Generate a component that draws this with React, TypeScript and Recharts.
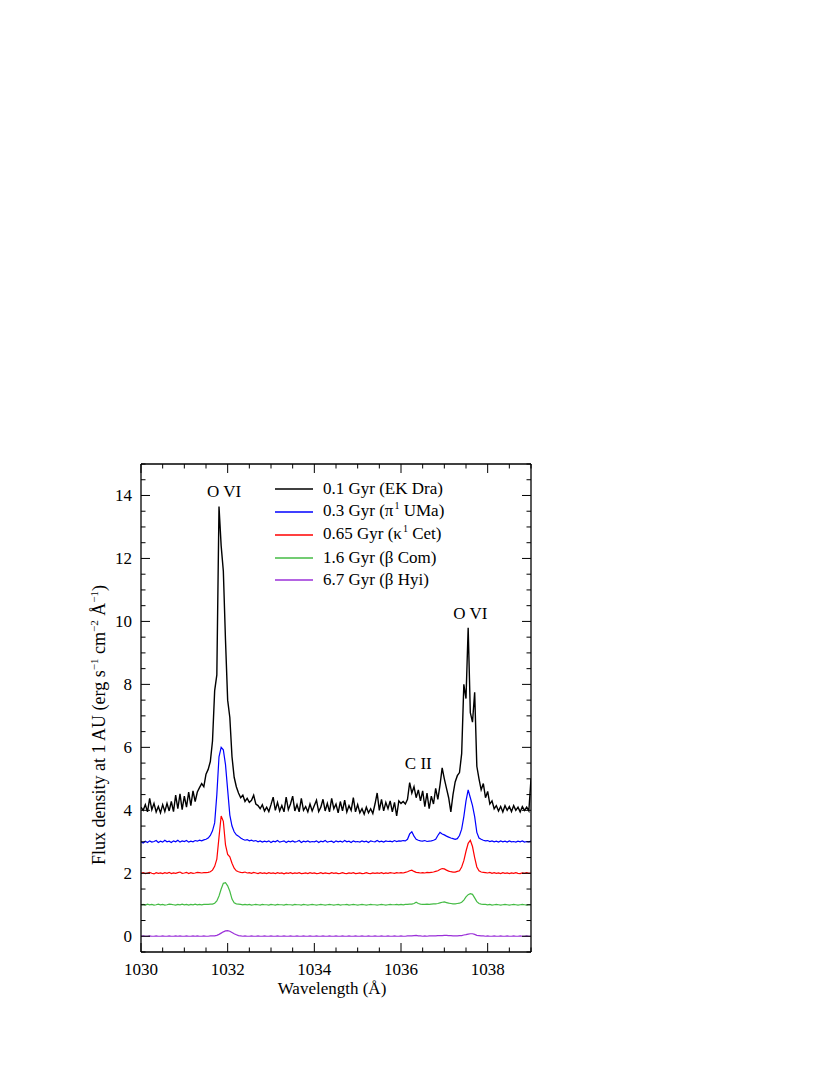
import React from 'react';
import { LineChart, Line, XAxis, YAxis, ReferenceDot, Legend } from 'recharts';

const FONT = '"Liberation Serif", "Times New Roman", Times, serif';

const wavelengths = [
  1030.00, 1030.05, 1030.10, 1030.15, 1030.20, 1030.25, 1030.30, 1030.35, 1030.40, 1030.45,
  1030.50, 1030.55, 1030.60, 1030.65, 1030.70, 1030.75, 1030.80, 1030.85, 1030.90, 1030.95,
  1031.00, 1031.05, 1031.10, 1031.15, 1031.20, 1031.25, 1031.30, 1031.35, 1031.40, 1031.45,
  1031.50, 1031.55, 1031.60, 1031.65, 1031.70, 1031.75, 1031.80, 1031.85, 1031.90, 1031.95,
  1032.00, 1032.05, 1032.10, 1032.15, 1032.20, 1032.25, 1032.30, 1032.35, 1032.40, 1032.45,
  1032.50, 1032.55, 1032.60, 1032.65, 1032.70, 1032.75, 1032.80, 1032.85, 1032.90, 1032.95,
  1033.00, 1033.05, 1033.10, 1033.15, 1033.20, 1033.25, 1033.30, 1033.35, 1033.40, 1033.45,
  1033.50, 1033.55, 1033.60, 1033.65, 1033.70, 1033.75, 1033.80, 1033.85, 1033.90, 1033.95,
  1034.00, 1034.05, 1034.10, 1034.15, 1034.20, 1034.25, 1034.30, 1034.35, 1034.40, 1034.45,
  1034.50, 1034.55, 1034.60, 1034.65, 1034.70, 1034.75, 1034.80, 1034.85, 1034.90, 1034.95,
  1035.00, 1035.05, 1035.10, 1035.15, 1035.20, 1035.25, 1035.30, 1035.35, 1035.40, 1035.45,
  1035.50, 1035.55, 1035.60, 1035.65, 1035.70, 1035.75, 1035.80, 1035.85, 1035.90, 1035.95,
  1036.00, 1036.05, 1036.10, 1036.15, 1036.20, 1036.25, 1036.30, 1036.35, 1036.40, 1036.45,
  1036.50, 1036.55, 1036.60, 1036.65, 1036.70, 1036.75, 1036.80, 1036.85, 1036.90, 1036.95,
  1037.00, 1037.05, 1037.10, 1037.15, 1037.20, 1037.25, 1037.30, 1037.35, 1037.40, 1037.45,
  1037.50, 1037.55, 1037.60, 1037.65, 1037.70, 1037.75, 1037.80, 1037.85, 1037.90, 1037.95,
  1038.00, 1038.05, 1038.10, 1038.15, 1038.20, 1038.25, 1038.30, 1038.35, 1038.40, 1038.45,
  1038.50, 1038.55, 1038.60, 1038.65, 1038.70, 1038.75, 1038.80, 1038.85, 1038.90, 1038.95,
  1039.00,
];

// 0.1 Gyr (EK Dra)
const ekDra = [
  4.10, 4.00, 4.18, 3.95, 4.38, 4.02, 4.22, 3.95, 4.12, 3.92,
  4.18, 3.96, 4.22, 3.98, 4.28, 3.96, 4.48, 4.05, 4.52, 4.02,
  4.45, 4.10, 4.58, 4.15, 4.62, 4.28, 4.58, 4.72, 4.85, 4.75,
  5.15, 5.30, 5.55, 6.20, 7.80, 8.30, 13.65, 12.40, 11.60, 9.40,
  7.50, 6.95, 5.70, 5.05, 4.75, 4.55, 4.40, 4.48, 4.28, 4.38,
  4.25, 4.32, 4.48, 4.20, 4.15, 4.05, 4.18, 3.98, 4.10, 3.96,
  4.18, 4.42, 4.00, 4.25, 3.98, 4.15, 3.95, 4.42, 4.02, 4.20,
  4.45, 3.98, 4.18, 3.95, 4.38, 4.00, 4.12, 3.95, 4.20, 3.98,
  4.15, 4.32, 3.96, 4.10, 4.35, 3.98, 4.22, 3.95, 4.38, 4.05,
  4.20, 3.92, 4.28, 3.98, 4.32, 3.95, 4.15, 4.00, 4.40, 3.95,
  4.18, 3.92, 4.05, 3.88, 4.10, 3.92, 4.05, 3.90, 4.20, 4.55,
  4.00, 4.35, 3.98, 4.25, 4.05, 4.30, 3.95, 4.25, 3.82, 4.30,
  4.22, 4.28, 4.20, 4.35, 4.88, 4.55, 4.75, 4.40, 4.65, 4.30,
  4.62, 4.12, 4.55, 4.05, 4.45, 4.20, 4.70, 4.35, 4.80, 5.35,
  5.00, 4.70, 4.40, 3.95, 4.50, 4.90, 5.10, 5.20, 5.80, 8.00,
  7.55, 9.80, 7.10, 6.80, 7.75, 5.40, 5.00, 4.65, 4.85, 4.40,
  4.60, 4.20, 4.30, 4.05, 4.15, 3.98, 4.12, 3.95, 4.15, 4.00,
  4.12, 3.96, 4.15, 4.00, 4.10, 3.95, 4.12, 4.00, 4.10, 3.98,
  5.00,
];

// 0.3 Gyr (pi1 UMa)
const piUMa = [
  3.00, 2.96, 3.02, 2.98, 3.03, 2.99, 3.01, 3.04, 2.98, 3.02,
  2.99, 3.05, 3.00, 3.02, 2.98, 3.03, 3.00, 3.05, 2.99, 3.03,
  3.01, 3.04, 2.99, 3.02, 3.00, 3.04, 3.02, 3.05, 3.03, 3.06,
  3.08, 3.12, 3.20, 3.35, 3.60, 4.50, 5.70, 6.00, 5.92, 5.45,
  4.65, 3.85, 3.50, 3.32, 3.22, 3.18, 3.12, 3.08, 3.05, 3.07,
  3.03, 3.05, 3.02, 3.04, 3.00, 3.03, 2.99, 3.02, 3.00, 3.03,
  2.98, 3.02, 3.00, 3.04, 2.99, 3.01, 3.03, 2.98, 3.02, 3.00,
  3.03, 2.99, 3.01, 3.04, 2.98, 3.02, 3.00, 3.03, 2.99, 3.01,
  3.00, 3.03, 2.98, 3.02, 3.00, 3.04, 2.99, 3.01, 3.02, 2.98,
  3.03, 3.00, 3.02, 2.99, 3.04, 3.00, 3.02, 2.98, 3.03, 3.00,
  3.01, 2.99, 3.03, 3.00, 3.02, 2.98, 3.03, 3.01, 3.00, 3.04,
  3.00, 3.02, 2.99, 3.03, 3.01, 3.02, 3.00, 3.04, 3.01, 3.03,
  3.02, 3.04, 3.03, 3.08, 3.25, 3.32, 3.18, 3.08, 3.05, 3.03,
  3.02, 3.04, 3.01, 3.02, 3.03, 3.05, 3.08, 3.20, 3.30, 3.25,
  3.22, 3.18, 3.15, 3.12, 3.10, 3.08, 3.10, 3.20, 3.40, 3.80,
  4.30, 4.65, 4.40, 4.15, 3.80, 3.30, 3.12, 3.08, 3.05, 3.03,
  3.04, 3.01, 3.03, 3.00, 3.02, 2.99, 3.03, 3.00, 3.02, 2.99,
  3.03, 3.00, 3.01, 2.99, 3.02, 3.00, 3.03, 2.99, 3.01, 3.00,
  3.02,
];

// 0.65 Gyr (kappa1 Cet)
const kapCet = [
  2.00, 2.02, 1.99, 2.01, 2.03, 2.00, 1.98, 2.02, 2.00, 2.01,
  1.99, 2.02, 2.00, 2.03, 1.99, 2.01, 2.00, 2.02, 2.04, 2.00,
  2.01, 2.03, 1.99, 2.02, 2.00, 2.01, 2.03, 2.02, 2.01, 2.02,
  2.02, 2.03, 2.05, 2.10, 2.22, 2.45, 3.15, 3.82, 3.65, 2.90,
  2.60, 2.52, 2.32, 2.16, 2.08, 2.05, 2.03, 2.02, 2.04, 2.01,
  2.02, 2.00, 2.03, 2.01, 1.99, 2.02, 2.00, 2.01, 1.99, 2.02,
  2.00, 2.01, 1.99, 2.02, 2.00, 2.01, 1.98, 2.01, 2.00, 2.02,
  1.99, 2.01, 2.00, 2.02, 1.99, 2.00, 2.01, 1.99, 2.02, 2.00,
  2.01, 1.99, 2.00, 2.02, 1.99, 2.01, 2.00, 1.99, 2.02, 2.00,
  2.01, 1.99, 2.00, 2.02, 2.00, 1.99, 2.01, 2.00, 2.02, 1.99,
  2.00, 2.01, 1.99, 2.00, 2.02, 2.00, 1.99, 2.01, 2.00, 2.01,
  2.00, 2.02, 1.99, 2.01, 2.00, 2.02, 2.01, 2.00, 2.02, 2.01,
  2.02, 2.01, 2.03, 2.05, 2.08, 2.10, 2.06, 2.03, 2.02, 2.01,
  2.02, 2.01, 2.03, 2.02, 2.03, 2.04, 2.06, 2.08, 2.12, 2.15,
  2.14, 2.10, 2.07, 2.05, 2.04, 2.04, 2.06, 2.08, 2.20, 2.40,
  2.70, 2.95, 3.05, 2.85, 2.50, 2.20, 2.08, 2.04, 2.03, 2.02,
  2.01, 2.03, 2.00, 2.02, 2.00, 2.01, 1.99, 2.02, 2.00, 2.01,
  1.99, 2.01, 2.00, 2.02, 2.00, 1.99, 2.01, 2.00, 2.02, 2.00,
  2.01,
];

// 1.6 Gyr (beta Com)
const betaCom = [
  1.00, 1.01, 0.99, 1.02, 1.00, 1.01, 0.99, 1.00, 1.02, 1.00,
  1.01, 0.99, 1.00, 1.02, 1.01, 1.00, 0.99, 1.01, 1.00, 1.02,
  1.00, 1.01, 0.99, 1.01, 1.00, 1.02, 1.00, 1.01, 1.00, 1.01,
  1.01, 1.01, 1.02, 1.02, 1.05, 1.12, 1.28, 1.50, 1.68, 1.70,
  1.60, 1.43, 1.18, 1.06, 1.03, 1.02, 1.01, 1.00, 1.01, 1.00,
  1.01, 0.99, 1.00, 1.01, 1.00, 0.99, 1.01, 1.00, 1.00, 0.99,
  1.01, 1.00, 0.99, 1.01, 1.00, 1.00, 0.99, 1.01, 1.00, 1.00,
  0.99, 1.01, 1.00, 1.00, 0.99, 1.01, 1.00, 0.99, 1.00, 1.01,
  1.00, 0.99, 1.00, 1.01, 1.00, 0.99, 1.00, 1.01, 1.00, 0.99,
  1.00, 1.01, 0.99, 1.00, 1.00, 1.01, 0.99, 1.00, 1.01, 1.00,
  0.99, 1.00, 1.01, 1.00, 0.99, 1.00, 1.01, 1.00, 1.00, 0.99,
  1.00, 1.01, 1.00, 0.99, 1.00, 1.01, 1.00, 1.00, 1.01, 1.00,
  1.01, 1.00, 1.01, 1.01, 1.02, 1.02, 1.04, 1.08, 1.04, 1.02,
  1.01, 1.01, 1.02, 1.01, 1.02, 1.03, 1.03, 1.04, 1.06, 1.08,
  1.09, 1.07, 1.05, 1.04, 1.03, 1.03, 1.04, 1.05, 1.08, 1.15,
  1.25, 1.32, 1.35, 1.33, 1.22, 1.10, 1.04, 1.02, 1.01, 1.01,
  1.00, 1.01, 0.99, 1.00, 1.01, 1.00, 0.99, 1.00, 1.01, 1.00,
  0.99, 1.00, 1.01, 1.00, 0.99, 1.00, 1.01, 1.00, 0.99, 1.00,
  1.00,
];

// 6.7 Gyr (beta Hyi)
const betaHyi = [
  0.00, 0.01, 0.00, 0.00, 0.01, 0.00, 0.00, 0.01, 0.00, 0.00,
  0.01, 0.00, 0.00, 0.01, 0.00, 0.00, 0.01, 0.00, 0.01, 0.00,
  0.00, 0.01, 0.00, 0.00, 0.01, 0.00, 0.01, 0.00, 0.00, 0.01,
  0.00, 0.00, 0.01, 0.01, 0.01, 0.03, 0.06, 0.10, 0.14, 0.17,
  0.18, 0.16, 0.12, 0.08, 0.05, 0.02, 0.01, 0.00, 0.01, 0.00,
  0.00, 0.01, 0.00, 0.00, 0.01, 0.00, 0.00, 0.01, 0.00, 0.00,
  0.01, 0.00, 0.00, 0.01, 0.00, 0.00, 0.01, 0.00, 0.00, 0.01,
  0.00, 0.00, 0.01, 0.00, 0.00, 0.01, 0.00, 0.00, 0.01, 0.00,
  0.00, 0.01, 0.00, 0.00, 0.01, 0.00, 0.00, 0.01, 0.00, 0.00,
  0.01, 0.00, 0.00, 0.01, 0.00, 0.00, 0.01, 0.00, 0.00, 0.01,
  0.00, 0.00, 0.01, 0.00, 0.00, 0.01, 0.00, 0.00, 0.01, 0.00,
  0.00, 0.01, 0.00, 0.00, 0.01, 0.00, 0.00, 0.01, 0.00, 0.00,
  0.01, 0.00, 0.00, 0.01, 0.01, 0.01, 0.02, 0.03, 0.01, 0.01,
  0.00, 0.01, 0.00, 0.01, 0.01, 0.01, 0.01, 0.02, 0.02, 0.02,
  0.03, 0.03, 0.02, 0.02, 0.01, 0.01, 0.01, 0.02, 0.02, 0.04,
  0.05, 0.07, 0.08, 0.08, 0.06, 0.03, 0.02, 0.01, 0.01, 0.00,
  0.01, 0.00, 0.00, 0.01, 0.00, 0.00, 0.01, 0.00, 0.00, 0.01,
  0.00, 0.00, 0.01, 0.00, 0.00, 0.01, 0.00, 0.00, 0.01, 0.00,
  0.00,
];

const xTicks = [1030, 1030.5, 1031, 1031.5, 1032, 1032.5, 1033, 1033.5, 1034, 1034.5,
  1035, 1035.5, 1036, 1036.5, 1037, 1037.5, 1038, 1038.5, 1039];
const yTicks = [-0.5, 0, 0.5, 1, 1.5, 2, 2.5, 3, 3.5, 4, 4.5, 5, 5.5, 6, 6.5, 7, 7.5, 8,
  8.5, 9, 9.5, 10, 10.5, 11, 11.5, 12, 12.5, 13, 13.5, 14, 14.5, 15];

const seriesKeys = ['ekDra', 'piUMa', 'kapCet', 'betaCom', 'betaHyi'];
const seriesColors = ['#000000', '#0000ff', '#ff0000', '#44bb44', '#9b30d9'];
const legendPre = ['0.1 Gyr (EK Dra)', '0.3 Gyr (\u03c0', '0.65 Gyr (\u03ba', '1.6 Gyr (\u03b2 Com)', '6.7 Gyr (\u03b2 Hyi)'];
const legendSup = ['', '1', '1', '', ''];
const legendPost = ['', ' UMa)', ' Cet)', '', ''];

const annText = ['O VI', 'O VI', 'C II'];
const annX = [1031.92, 1037.6, 1036.4];
const annY = [14.13, 10.26, 5.51];

const rows = wavelengths.map((w, i) => ({
  w,
  ekDra: ekDra[i],
  piUMa: piUMa[i],
  kapCet: kapCet[i],
  betaCom: betaCom[i],
  betaHyi: betaHyi[i],
}));

const isMajorX = (v: number) => Math.abs(v % 2) < 1e-9;
const isMajorY = (v: number) => v >= 0 && Math.abs(v % 2) < 1e-9;

const XTickBottom = (props: any) => {
  const { x, y, payload } = props;
  const v = payload.value;
  const major = isMajorX(v);
  return (
    <g>
      <line x1={x} x2={x} y1={y} y2={y - (major ? 9 : 4.5)} stroke="#000" strokeWidth={1} />
      {major && (
        <text x={x} y={y + 23} textAnchor="middle" fontSize={17} fontFamily={FONT} fill="#000">{v}</text>
      )}
    </g>
  );
};

const XTickTop = (props: any) => {
  const { x, y, payload } = props;
  const major = isMajorX(payload.value);
  return <line x1={x} x2={x} y1={y} y2={y + (major ? 9 : 4.5)} stroke="#000" strokeWidth={1} />;
};

const YTickLeft = (props: any) => {
  const { x, y, payload } = props;
  const v = payload.value;
  const major = isMajorY(v);
  return (
    <g>
      <line x1={x} x2={x + (major ? 9 : 4.5)} y1={y} y2={y} stroke="#000" strokeWidth={1} />
      {major && (
        <text x={x - 9} y={y + 6} textAnchor="end" fontSize={17} fontFamily={FONT} fill="#000">{v}</text>
      )}
    </g>
  );
};

const YTickRight = (props: any) => {
  const { x, y, payload } = props;
  const major = isMajorY(payload.value);
  return <line x1={x} x2={x - (major ? 9 : 4.5)} y1={y} y2={y} stroke="#000" strokeWidth={1} />;
};

const YTitle = () => (
  <text transform="translate(105,725) rotate(-90)" textAnchor="middle" fontSize={18} fontFamily={FONT} fill="#000">
    {'Flux density at 1 AU (erg s'}
    <tspan dy={-7} fontSize={11}>{'\u22121'}</tspan>
    <tspan dy={7}>{' cm'}</tspan>
    <tspan dy={-7} fontSize={11}>{'\u22122'}</tspan>
    <tspan dy={7}>{' \u00c5'}</tspan>
    <tspan dy={-7} fontSize={11}>{'\u22121'}</tspan>
    <tspan dy={7}>{')'}</tspan>
  </text>
);

const XTitle = () => (
  <text x={332} y={994} textAnchor="middle" fontSize={17} fontFamily={FONT} fill="#000">
    {'Wavelength (\u00c5)'}
  </text>
);

const LegendBox = () => (
  <div style={{ fontFamily: FONT, fontSize: 17, color: '#000' }}>
    {seriesKeys.map((k, i) => (
      <div key={k} style={{ display: 'flex', alignItems: 'center', height: 22.75, whiteSpace: 'nowrap' }}>
        <svg width={38} height={4} style={{ marginRight: 10, display: 'block' }}>
          <line x1={0} x2={38} y1={2} y2={2} stroke={seriesColors[i]} strokeWidth={1.5} />
        </svg>
        <span style={{ lineHeight: '22px' }}>
          {legendPre[i]}
          {legendSup[i] && (
            <span style={{ fontSize: 10, position: 'relative', top: -7, marginLeft: 1 }}>{legendSup[i]}</span>
          )}
          {legendPost[i]}
        </span>
      </div>
    ))}
  </div>
);

export default function App() {
  const drawOrder = [4, 3, 2, 1, 0];
  return (
    <div style={{ position: 'absolute', left: 0, top: 0, width: 830, height: 1075, background: '#fff' }}>
      <LineChart
        width={830}
        height={1075}
        data={rows}
        margin={{ top: 463, right: 298, bottom: 83, left: 101 }}
      >
        <XAxis
          xAxisId="bottom"
          dataKey="w"
          type="number"
          domain={[1030, 1039]}
          allowDataOverflow
          ticks={xTicks}
          interval={0}
          height={40}
          tickSize={0}
          tickMargin={0}
          tickLine={false}
          axisLine={{ stroke: '#000', strokeWidth: 1.3 }}
          tick={<XTickBottom />}
          label={<XTitle />}
        />
        <XAxis
          xAxisId="top"
          orientation="top"
          dataKey="w"
          type="number"
          domain={[1030, 1039]}
          allowDataOverflow
          ticks={xTicks}
          interval={0}
          height={1}
          tickSize={0}
          tickMargin={0}
          tickLine={false}
          axisLine={{ stroke: '#000', strokeWidth: 1.3 }}
          tick={<XTickTop />}
        />
        <YAxis
          yAxisId="left"
          type="number"
          domain={[-0.5, 15]}
          allowDataOverflow
          ticks={yTicks}
          interval={0}
          width={40}
          tickSize={0}
          tickMargin={0}
          tickLine={false}
          axisLine={{ stroke: '#000', strokeWidth: 1.3 }}
          tick={<YTickLeft />}
          label={<YTitle />}
        />
        <YAxis
          yAxisId="right"
          orientation="right"
          type="number"
          domain={[-0.5, 15]}
          allowDataOverflow
          ticks={yTicks}
          interval={0}
          width={1}
          tickSize={0}
          tickMargin={0}
          tickLine={false}
          axisLine={{ stroke: '#000', strokeWidth: 1.3 }}
          tick={<YTickRight />}
        />
        <Line
          xAxisId="top"
          yAxisId="right"
          type="linear"
          dataKey="betaHyi"
          stroke="transparent"
          strokeWidth={0}
          dot={false}
          activeDot={false}
          legendType="none"
          isAnimationActive={false}
        />
        {drawOrder.map((i) => (
          <Line
            key={seriesKeys[i]}
            xAxisId="bottom"
            yAxisId="left"
            type="linear"
            dataKey={seriesKeys[i]}
            stroke={seriesColors[i]}
            strokeWidth={i === 0 ? 1.4 : 1.2}
            dot={false}
            activeDot={false}
            isAnimationActive={false}
          />
        ))}
        {annText.map((t, i) => (
          <ReferenceDot
            key={`ann${i}`}
            xAxisId="bottom"
            yAxisId="left"
            x={annX[i]}
            y={annY[i]}
            r={0}
            fill="none"
            stroke="none"
            label={{ value: t, position: 'center', fontSize: 17, fill: '#000', fontFamily: FONT }}
          />
        ))}
        <Legend
          layout="vertical"
          align="center"
          verticalAlign="middle"
          content={() => <LegendBox />}
          wrapperStyle={{ left: 275, top: 478, width: 'auto', height: 'auto' }}
        />
      </LineChart>
    </div>
  );
}
